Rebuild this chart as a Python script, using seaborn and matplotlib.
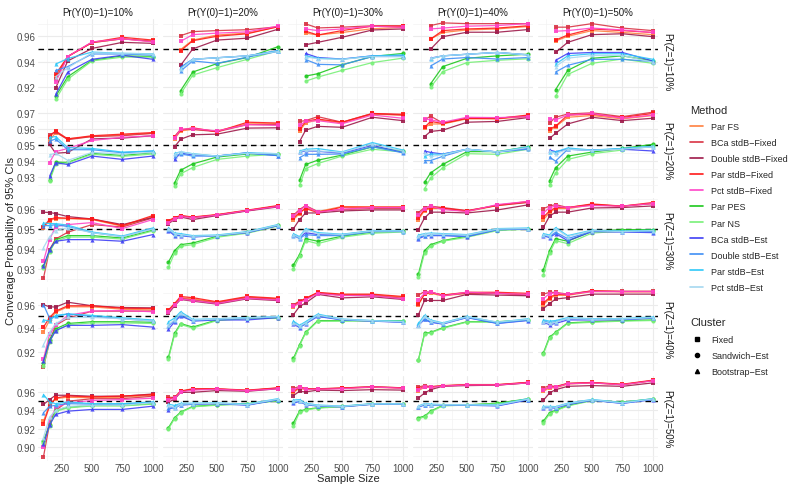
import matplotlib
matplotlib.use('Agg')
import pandas as pd
import matplotlib.pyplot as plt
import seaborn as sns
from matplotlib.lines import Line2D
from matplotlib.ticker import MultipleLocator, FixedLocator, FormatStrFormatter

# sample sizes used in each Pr(Z=1) row
sample_sizes = [
    [200, 300, 500, 750, 1000],
    [150, 200, 300, 500, 750, 1000],
    [100, 150, 200, 300, 500, 750, 1000],
    [100, 150, 200, 300, 500, 750, 1000],
    [100, 150, 200, 300, 500, 750, 1000],
]
y0_levels = ['10%', '20%', '30%', '40%', '50%']
z_levels = ['10%', '20%', '30%', '40%', '50%']

methods = ['Par FS', 'BCa stdB\u2212Fixed', 'Double stdB\u2212Fixed', 'Par stdB\u2212Fixed',
           'Pct stdB\u2212Fixed', 'Par PES', 'Par NS', 'BCa stdB\u2212Est',
           'Double stdB\u2212Est', 'Par stdB\u2212Est', 'Pct stdB\u2212Est']
method_cluster = ['Fixed'] * 5 + ['Sandwich\u2212Est'] * 2 + ['Bootstrap\u2212Est'] * 4
method_colors = ['#FF8040', '#D93344', '#9E1A4A', '#FF1A1A', '#FF45C8', '#1EC81E',
                 '#78F078', '#3F3FF5', '#3F8FF5', '#2FC8F8', '#A6D8F0']
clusters = ['Fixed', 'Sandwich\u2212Est', 'Bootstrap\u2212Est']
cluster_markers = ['s', 'o', '^']

# coverage values: [row Pr(Z=1)][col Pr(Y(0)=1)] -> one value per sample size
par_fs = [
    [[0.928, 0.944, 0.955, 0.958, 0.956], [0.9495, 0.957, 0.961, 0.9625, 0.9675], [0.9625, 0.961, 0.963, 0.966, 0.967],
     [0.9578, 0.963, 0.965, 0.9658, 0.9677], [0.9562, 0.960, 0.9645, 0.963, 0.9613]],
    [[0.953, 0.958, 0.954, 0.9555, 0.9565, 0.9575], [0.954, 0.959, 0.960, 0.959, 0.9635, 0.9635], [0.959, 0.964, 0.966, 0.964, 0.9695, 0.969],
     [0.961, 0.9634, 0.9634, 0.9666, 0.9666, 0.968], [0.9591, 0.9617, 0.9676, 0.9687, 0.9666, 0.9687]],
    [[0.9505, 0.954, 0.955, 0.955, 0.9545, 0.9512, 0.956], [0.9532, 0.955, 0.9562, 0.9556, 0.9568, 0.959, 0.9612], [0.9545, 0.9575, 0.9605, 0.9585, 0.961, 0.9608, 0.9608],
     [0.9545, 0.959, 0.960, 0.960, 0.9585, 0.9615, 0.9632], [0.9545, 0.958, 0.960, 0.960, 0.9618, 0.9612, 0.9625]],
    [[0.937, 0.9467, 0.9536, 0.9582, 0.9582, 0.9561, 0.9555], [0.955, 0.960, 0.966, 0.965, 0.962, 0.9665, 0.965], [0.958, 0.962, 0.965, 0.970, 0.9685, 0.9685, 0.9665],
     [0.960, 0.969, 0.9697, 0.9675, 0.9697, 0.9697, 0.9688], [0.960, 0.965, 0.968, 0.968, 0.9712, 0.971, 0.971]],
    [[0.928, 0.9466, 0.9532, 0.9546, 0.954, 0.9546, 0.9568], [0.9525, 0.9538, 0.961, 0.9632, 0.9636, 0.962, 0.9645], [0.960, 0.9645, 0.963, 0.9635, 0.9645, 0.9655, 0.9648],
     [0.962, 0.9655, 0.9655, 0.967, 0.9682, 0.9682, 0.9705], [0.961, 0.965, 0.965, 0.9692, 0.9705, 0.9684, 0.973]],
]
bca_fixed = [
    [[0.926, 0.944, 0.955, 0.958, 0.956], [0.9605, 0.9637, 0.9645, 0.9652, 0.9675], [0.9698, 0.9666, 0.9672, 0.9683, 0.9683],
     [0.9685, 0.9706, 0.970, 0.970, 0.970], [0.9672, 0.9672, 0.970, 0.9665, 0.9645]],
    [[0.9565, 0.9585, 0.9535, 0.9555, 0.956, 0.9575], [0.9555, 0.960, 0.960, 0.9585, 0.963, 0.963], [0.965, 0.9655, 0.968, 0.9645, 0.970, 0.969],
     [0.966, 0.9683, 0.964, 0.967, 0.967, 0.9685], [0.964, 0.9676, 0.9697, 0.9704, 0.968, 0.9708]],
    [[0.9253, 0.9395, 0.9448, 0.9482, 0.952, 0.9508, 0.9553], [0.9535, 0.955, 0.9565, 0.9555, 0.9568, 0.959, 0.9612], [0.9567, 0.9595, 0.9615, 0.9585, 0.9595, 0.960, 0.960],
     [0.958, 0.9605, 0.9612, 0.9605, 0.959, 0.9615, 0.963], [0.960, 0.9612, 0.962, 0.9605, 0.962, 0.9612, 0.9625]],
    [[0.9065, 0.9285, 0.9424, 0.9485, 0.9545, 0.9545, 0.9545], [0.9545, 0.9598, 0.9655, 0.964, 0.9615, 0.966, 0.9645], [0.960, 0.963, 0.965, 0.970, 0.968, 0.968, 0.9655],
     [0.9682, 0.9712, 0.9706, 0.9682, 0.9697, 0.9697, 0.9682], [0.969, 0.9705, 0.9705, 0.969, 0.9718, 0.9715, 0.9715]],
    [[0.8887, 0.9253, 0.940, 0.9502, 0.953, 0.953, 0.9557], [0.9545, 0.9545, 0.961, 0.9635, 0.9638, 0.962, 0.9648], [0.9645, 0.9665, 0.964, 0.964, 0.9648, 0.9665, 0.965],
     [0.966, 0.9675, 0.9665, 0.9672, 0.9684, 0.9684, 0.9708], [0.965, 0.9675, 0.9665, 0.970, 0.9708, 0.9686, 0.973]],
]
double_fixed = [
    [[0.919, 0.9405, 0.9504, 0.9552, 0.9544], [0.937, 0.950, 0.957, 0.9585, 0.9655], [0.9533, 0.9552, 0.9592, 0.965, 0.9658],
     [0.9498, 0.9597, 0.9632, 0.9632, 0.9653], [0.9472, 0.9552, 0.9613, 0.962, 0.9597]],
    [[0.9505, 0.945, 0.9455, 0.954, 0.9545, 0.956], [0.949, 0.9538, 0.9566, 0.957, 0.9608, 0.961], [0.9523, 0.9595, 0.9619, 0.9613, 0.9676, 0.9655],
     [0.9555, 0.9587, 0.9595, 0.9645, 0.965, 0.9674], [0.9543, 0.9575, 0.9634, 0.9676, 0.9655, 0.967]],
    [[0.9582, 0.958, 0.9575, 0.956, 0.9548, 0.952, 0.9555], [0.9525, 0.9545, 0.9558, 0.9545, 0.9565, 0.9588, 0.9608], [0.950, 0.9545, 0.9578, 0.9578, 0.9588, 0.9593, 0.9593],
     [0.9495, 0.9553, 0.9582, 0.9582, 0.9578, 0.9593, 0.9618], [0.9507, 0.9562, 0.9582, 0.9582, 0.9603, 0.9605, 0.9613]],
    [[0.960, 0.9582, 0.958, 0.9621, 0.9591, 0.9576, 0.9573], [0.9525, 0.959, 0.9645, 0.963, 0.9605, 0.965, 0.9635], [0.9515, 0.9585, 0.9615, 0.9688, 0.9658, 0.9667, 0.9645],
     [0.9515, 0.9636, 0.9636, 0.9636, 0.9688, 0.9682, 0.9676], [0.9567, 0.961, 0.9648, 0.966, 0.969, 0.969, 0.969]],
    [[0.9466, 0.952, 0.9568, 0.9568, 0.9557, 0.9557, 0.9582], [0.9491, 0.9525, 0.960, 0.9601, 0.962, 0.9612, 0.964], [0.9565, 0.9612, 0.9605, 0.9625, 0.962, 0.963, 0.9625],
     [0.9538, 0.9593, 0.963, 0.9668, 0.9675, 0.968, 0.9705], [0.9513, 0.9593, 0.963, 0.9667, 0.9675, 0.9667, 0.9705]],
]
par_fixed = [
    [[0.9298, 0.944, 0.9552, 0.9592, 0.957], [0.9485, 0.9565, 0.960, 0.962, 0.9675], [0.964, 0.961, 0.9645, 0.968, 0.968],
     [0.9578, 0.9645, 0.9658, 0.9665, 0.9683], [0.957, 0.961, 0.9658, 0.9645, 0.963]],
    [[0.9555, 0.959, 0.954, 0.956, 0.957, 0.958], [0.955, 0.9595, 0.961, 0.9585, 0.9645, 0.964], [0.960, 0.965, 0.9665, 0.9645, 0.970, 0.9695],
     [0.9613, 0.965, 0.9637, 0.967, 0.9668, 0.969], [0.9602, 0.962, 0.969, 0.9695, 0.9675, 0.970]],
    [[0.951, 0.9545, 0.9555, 0.9552, 0.9548, 0.9515, 0.9565], [0.954, 0.9555, 0.9565, 0.9558, 0.957, 0.9592, 0.9615], [0.9553, 0.958, 0.960, 0.958, 0.9607, 0.9607, 0.9607],
     [0.9553, 0.9595, 0.9605, 0.9602, 0.9588, 0.9617, 0.9635], [0.9557, 0.9588, 0.9605, 0.9605, 0.9623, 0.9612, 0.963]],
    [[0.9409, 0.949, 0.9545, 0.9591, 0.9591, 0.957, 0.9567], [0.9555, 0.961, 0.967, 0.966, 0.9625, 0.967, 0.9655], [0.959, 0.9625, 0.9655, 0.9705, 0.969, 0.969, 0.967],
     [0.9606, 0.969, 0.9706, 0.9682, 0.9706, 0.9706, 0.9697], [0.9615, 0.966, 0.969, 0.9685, 0.9718, 0.9712, 0.9712]],
    [[0.9253, 0.9447, 0.9538, 0.956, 0.955, 0.956, 0.9575], [0.953, 0.954, 0.9615, 0.964, 0.964, 0.9625, 0.965], [0.9612, 0.9655, 0.964, 0.9638, 0.9648, 0.966, 0.965],
     [0.964, 0.9665, 0.966, 0.9675, 0.9686, 0.9686, 0.9711], [0.9623, 0.9665, 0.966, 0.9698, 0.971, 0.969, 0.9735]],
]
pct_fixed = [
    [[0.9237, 0.944, 0.9555, 0.958, 0.9555], [0.956, 0.9613, 0.9625, 0.9635, 0.968], [0.9658, 0.9645, 0.9658, 0.968, 0.967],
     [0.9658, 0.9665, 0.968, 0.9685, 0.970], [0.964, 0.9645, 0.9665, 0.965, 0.963]],
    [[0.939, 0.946, 0.948, 0.953, 0.955, 0.956], [0.9545, 0.960, 0.9605, 0.959, 0.963, 0.9625], [0.9625, 0.965, 0.9655, 0.9635, 0.969, 0.967],
     [0.9666, 0.966, 0.9645, 0.9676, 0.9674, 0.968], [0.9666, 0.966, 0.969, 0.970, 0.967, 0.969]],
    [[0.9337, 0.9445, 0.951, 0.952, 0.953, 0.950, 0.9545], [0.953, 0.9548, 0.956, 0.9555, 0.9567, 0.959, 0.961], [0.9562, 0.959, 0.9612, 0.9582, 0.9597, 0.9605, 0.9605],
     [0.957, 0.960, 0.9612, 0.9595, 0.9585, 0.962, 0.9635], [0.9578, 0.9605, 0.9612, 0.9605, 0.9615, 0.9612, 0.9625]],
    [[0.9136, 0.9348, 0.9424, 0.9509, 0.9545, 0.955, 0.954], [0.954, 0.9595, 0.965, 0.9635, 0.961, 0.9655, 0.964], [0.9585, 0.9618, 0.964, 0.9695, 0.9678, 0.9678, 0.965],
     [0.964, 0.9697, 0.9712, 0.9675, 0.9706, 0.9697, 0.9688], [0.9652, 0.9695, 0.970, 0.9688, 0.9712, 0.9712, 0.9712]],
    [[0.8997, 0.9282, 0.9429, 0.9484, 0.951, 0.952, 0.9535], [0.952, 0.9535, 0.9605, 0.9625, 0.9635, 0.9618, 0.964], [0.9625, 0.966, 0.9632, 0.9635, 0.964, 0.966, 0.9645],
     [0.963, 0.9662, 0.9655, 0.967, 0.9682, 0.9682, 0.9705], [0.9625, 0.966, 0.9655, 0.9695, 0.9705, 0.9684, 0.9728]],
]
par_pes = [
    [[0.9125, 0.928, 0.941, 0.9445, 0.944], [0.917, 0.9317, 0.9384, 0.9432, 0.9517], [0.9285, 0.9304, 0.9374, 0.944, 0.9464],
     [0.9224, 0.936, 0.9426, 0.9445, 0.9458], [0.9178, 0.933, 0.9426, 0.9445, 0.9405]],
    [[0.9283, 0.9394, 0.9392, 0.9449, 0.9436, 0.9453], [0.9262, 0.9343, 0.9383, 0.9426, 0.9445, 0.9447], [0.9279, 0.9379, 0.9406, 0.9438, 0.949, 0.9464],
     [0.9266, 0.9326, 0.9379, 0.946, 0.946, 0.949], [0.9277, 0.9358, 0.9432, 0.9457, 0.948, 0.9506]],
    [[0.9312, 0.9387, 0.9445, 0.9465, 0.9465, 0.9453, 0.9492], [0.9333, 0.939, 0.942, 0.9428, 0.9462, 0.9483, 0.9517], [0.932, 0.937, 0.945, 0.9437, 0.9462, 0.9483, 0.9487],
     [0.9273, 0.939, 0.942, 0.944, 0.9462, 0.9495, 0.950], [0.9295, 0.939, 0.945, 0.9437, 0.9487, 0.9495, 0.9495]],
    [[0.9106, 0.9303, 0.9394, 0.944, 0.9455, 0.9455, 0.945], [0.9152, 0.9355, 0.9439, 0.9409, 0.947, 0.9485, 0.9485], [0.9143, 0.9258, 0.9364, 0.9464, 0.9464, 0.9464, 0.9464],
     [0.913, 0.9355, 0.9364, 0.9403, 0.9455, 0.9455, 0.947], [0.919, 0.9324, 0.9364, 0.9445, 0.9455, 0.9464, 0.947]],
    [[0.9063, 0.924, 0.940, 0.9435, 0.9455, 0.9455, 0.9475], [0.9209, 0.9319, 0.9381, 0.9445, 0.9462, 0.9475, 0.951], [0.9264, 0.9392, 0.9411, 0.943, 0.9445, 0.9472, 0.9472],
     [0.9319, 0.9337, 0.9392, 0.9455, 0.9462, 0.948, 0.9528], [0.9282, 0.9374, 0.9403, 0.9455, 0.9513, 0.9492, 0.9528]],
]
par_ns = [
    [[0.910, 0.926, 0.9405, 0.9435, 0.9435], [0.9144, 0.9293, 0.9352, 0.9418, 0.9485], [0.9245, 0.9277, 0.933, 0.9392, 0.9427],
     [0.9197, 0.932, 0.9392, 0.941, 0.9422], [0.9125, 0.9298, 0.9386, 0.942, 0.9386]],
    [[0.9275, 0.938, 0.939, 0.9443, 0.943, 0.9445], [0.9241, 0.932, 0.936, 0.9411, 0.9432, 0.9443], [0.9247, 0.9353, 0.9385, 0.9432, 0.9475, 0.9458],
     [0.9226, 0.9294, 0.9358, 0.9447, 0.9443, 0.9475], [0.9247, 0.9326, 0.9411, 0.9447, 0.947, 0.9494]],
    [[0.9303, 0.9383, 0.9437, 0.9458, 0.9458, 0.9448, 0.9488], [0.9307, 0.9378, 0.9412, 0.942, 0.9457, 0.9477, 0.9512], [0.930, 0.9362, 0.944, 0.9425, 0.9457, 0.9477, 0.9483],
     [0.926, 0.9378, 0.9412, 0.9437, 0.9457, 0.949, 0.9497], [0.927, 0.9378, 0.944, 0.9425, 0.9478, 0.9487, 0.949]],
    [[0.9076, 0.928, 0.9379, 0.943, 0.9445, 0.9445, 0.944], [0.914, 0.9345, 0.9432, 0.940, 0.9465, 0.9482, 0.9483], [0.913, 0.925, 0.936, 0.9458, 0.946, 0.9462, 0.9462],
     [0.9125, 0.935, 0.936, 0.9398, 0.9452, 0.9452, 0.9468], [0.918, 0.9315, 0.936, 0.944, 0.945, 0.946, 0.9465]],
    [[0.904, 0.9225, 0.939, 0.9428, 0.945, 0.945, 0.947], [0.9195, 0.931, 0.9375, 0.944, 0.9458, 0.947, 0.9505], [0.9227, 0.938, 0.9405, 0.9425, 0.9442, 0.947, 0.947],
     [0.9305, 0.933, 0.9385, 0.945, 0.946, 0.9475, 0.9522], [0.9265, 0.936, 0.9395, 0.945, 0.9508, 0.9488, 0.9525]],
]
bca_est = [
    [[0.914, 0.9317, 0.9418, 0.945, 0.9418], [0.9355, 0.9418, 0.943, 0.9445, 0.9485], [0.9464, 0.9432, 0.942, 0.9445, 0.9445],
     [0.9427, 0.9445, 0.9458, 0.9472, 0.9453], [0.941, 0.9464, 0.9472, 0.9472, 0.9405]],
    [[0.9305, 0.939, 0.9379, 0.9432, 0.9411, 0.9432], [0.9411, 0.945, 0.944, 0.9432, 0.9453, 0.9435], [0.9455, 0.9465, 0.9462, 0.945, 0.950, 0.9455],
     [0.9464, 0.9455, 0.9445, 0.9475, 0.9458, 0.948], [0.947, 0.946, 0.9475, 0.947, 0.9475, 0.9464]],
    [[0.9312, 0.9395, 0.9437, 0.9445, 0.9445, 0.9437, 0.947], [0.949, 0.9465, 0.9465, 0.9458, 0.9465, 0.948, 0.9515], [0.947, 0.9455, 0.948, 0.947, 0.947, 0.9487, 0.9487],
     [0.945, 0.9462, 0.9465, 0.9465, 0.946, 0.9495, 0.9497], [0.9465, 0.9455, 0.9475, 0.944, 0.9485, 0.9483, 0.948]],
    [[0.9121, 0.9288, 0.9379, 0.9424, 0.9424, 0.943, 0.9409], [0.939, 0.9455, 0.9505, 0.946, 0.947, 0.947, 0.949], [0.9435, 0.9405, 0.9438, 0.950, 0.947, 0.946, 0.945],
     [0.9425, 0.9475, 0.945, 0.9435, 0.949, 0.944, 0.9465], [0.945, 0.943, 0.944, 0.947, 0.947, 0.9472, 0.9485]],
    [[0.9026, 0.9238, 0.9356, 0.9392, 0.9411, 0.9411, 0.9447], [0.941, 0.944, 0.946, 0.9468, 0.9475, 0.9458, 0.9518], [0.948, 0.950, 0.9465, 0.9448, 0.944, 0.9468, 0.9468],
     [0.9438, 0.946, 0.9455, 0.9458, 0.9458, 0.945, 0.9515], [0.943, 0.9432, 0.9425, 0.9465, 0.9512, 0.9478, 0.952]],
]
double_est = [
    [[0.933, 0.936, 0.946, 0.946, 0.945], [0.9325, 0.9405, 0.9386, 0.9435, 0.948], [0.9416, 0.9378, 0.9374, 0.944, 0.944],
     [0.9365, 0.942, 0.9432, 0.942, 0.9432], [0.9317, 0.937, 0.9418, 0.9418, 0.940]],
    [[0.9525, 0.954, 0.9472, 0.9472, 0.9453, 0.9464], [0.9432, 0.9445, 0.9432, 0.9432, 0.945, 0.9435], [0.9422, 0.9443, 0.9443, 0.9445, 0.949, 0.9453],
     [0.9404, 0.9404, 0.943, 0.9475, 0.9458, 0.9475], [0.9426, 0.940, 0.9475, 0.9468, 0.9478, 0.949]],
    [[0.9515, 0.9515, 0.952, 0.951, 0.948, 0.946, 0.950], [0.9495, 0.947, 0.9468, 0.946, 0.9465, 0.9482, 0.9515], [0.9465, 0.945, 0.947, 0.9465, 0.9465, 0.9485, 0.9485],
     [0.9455, 0.9465, 0.9468, 0.9468, 0.9462, 0.9495, 0.9498], [0.9468, 0.946, 0.9482, 0.945, 0.9487, 0.9485, 0.9485]],
    [[0.960, 0.9485, 0.950, 0.9521, 0.950, 0.948, 0.9461], [0.942, 0.9465, 0.9515, 0.9465, 0.9475, 0.9485, 0.9495], [0.945, 0.941, 0.944, 0.9505, 0.9472, 0.9462, 0.9452],
     [0.943, 0.948, 0.9455, 0.9438, 0.9492, 0.9442, 0.9468], [0.946, 0.9448, 0.9455, 0.9482, 0.9475, 0.9475, 0.9488]],
    [[0.9374, 0.9446, 0.9457, 0.9475, 0.947, 0.947, 0.949], [0.943, 0.9425, 0.9462, 0.947, 0.9478, 0.9462, 0.952], [0.949, 0.9505, 0.9468, 0.945, 0.9442, 0.947, 0.947],
     [0.944, 0.9465, 0.9458, 0.946, 0.946, 0.9455, 0.952], [0.9435, 0.9438, 0.943, 0.947, 0.9515, 0.948, 0.9523]],
]
par_est = [
    [[0.938, 0.9424, 0.9475, 0.9465, 0.9462], [0.935, 0.9418, 0.943, 0.9445, 0.9485], [0.9445, 0.9427, 0.9418, 0.9445, 0.9453],
     [0.9422, 0.9445, 0.9458, 0.9472, 0.9453], [0.938, 0.9445, 0.9462, 0.9462, 0.9418]],
    [[0.9549, 0.9555, 0.9485, 0.948, 0.9457, 0.9464], [0.9449, 0.9458, 0.9447, 0.9432, 0.9453, 0.9447], [0.9464, 0.9475, 0.9479, 0.9458, 0.9517, 0.947],
     [0.943, 0.9445, 0.9443, 0.9475, 0.9458, 0.949], [0.946, 0.9458, 0.9483, 0.947, 0.948, 0.9494]],
    [[0.9528, 0.9525, 0.9525, 0.9517, 0.9483, 0.9463, 0.9503], [0.9505, 0.9478, 0.9475, 0.9465, 0.9468, 0.9485, 0.952], [0.9475, 0.946, 0.950, 0.948, 0.9472, 0.949, 0.949],
     [0.9468, 0.9475, 0.9478, 0.9475, 0.947, 0.950, 0.9503], [0.9475, 0.9468, 0.9505, 0.9465, 0.9492, 0.9488, 0.9492]],
    [[0.947, 0.9461, 0.9509, 0.9521, 0.9509, 0.9488, 0.947], [0.9455, 0.9485, 0.954, 0.9475, 0.948, 0.949, 0.950], [0.946, 0.9425, 0.9455, 0.952, 0.9478, 0.9465, 0.9458],
     [0.944, 0.951, 0.947, 0.9445, 0.950, 0.945, 0.948], [0.947, 0.946, 0.9465, 0.949, 0.948, 0.9482, 0.9495]],
    [[0.9576, 0.9494, 0.9475, 0.9494, 0.9475, 0.9475, 0.9494], [0.947, 0.9455, 0.9478, 0.948, 0.9483, 0.947, 0.953], [0.9515, 0.952, 0.948, 0.946, 0.9448, 0.9475, 0.9475],
     [0.945, 0.9475, 0.947, 0.9465, 0.9465, 0.9462, 0.953], [0.9445, 0.9445, 0.9442, 0.948, 0.9522, 0.9487, 0.953]],
]
pct_est = [
    [[0.928, 0.935, 0.947, 0.9465, 0.946], [0.934, 0.9418, 0.943, 0.9445, 0.948], [0.9437, 0.9422, 0.9418, 0.944, 0.944],
     [0.9425, 0.9445, 0.9458, 0.9472, 0.9453], [0.936, 0.9427, 0.9448, 0.9448, 0.9395]],
    [[0.944, 0.945, 0.9405, 0.9455, 0.9445, 0.9455], [0.9443, 0.946, 0.9445, 0.9432, 0.945, 0.9447], [0.946, 0.9468, 0.9464, 0.9455, 0.9506, 0.9464],
     [0.9453, 0.943, 0.944, 0.9475, 0.9458, 0.9485], [0.9464, 0.9447, 0.9475, 0.9468, 0.9475, 0.949]],
    [[0.9405, 0.946, 0.949, 0.9505, 0.948, 0.946, 0.9498], [0.950, 0.9475, 0.947, 0.9462, 0.9466, 0.9483, 0.9518], [0.947, 0.9455, 0.9495, 0.9475, 0.947, 0.9488, 0.9488],
     [0.9462, 0.9472, 0.9475, 0.9472, 0.9468, 0.9498, 0.950], [0.947, 0.9462, 0.950, 0.946, 0.949, 0.9485, 0.949]],
    [[0.9258, 0.9364, 0.944, 0.9491, 0.9491, 0.948, 0.9461], [0.943, 0.947, 0.9525, 0.947, 0.9478, 0.9488, 0.9498], [0.9445, 0.9415, 0.9445, 0.9512, 0.9475, 0.9463, 0.9455],
     [0.9415, 0.950, 0.9465, 0.944, 0.9497, 0.9452, 0.9475], [0.9455, 0.944, 0.945, 0.9485, 0.9476, 0.9478, 0.949]],
    [[0.9099, 0.9326, 0.940, 0.9445, 0.9457, 0.9457, 0.9485], [0.9455, 0.943, 0.947, 0.9475, 0.948, 0.9465, 0.9525], [0.950, 0.951, 0.9472, 0.9455, 0.9445, 0.9472, 0.9472],
     [0.9445, 0.947, 0.9462, 0.9462, 0.9462, 0.9458, 0.9525], [0.9438, 0.944, 0.9435, 0.9475, 0.9518, 0.9484, 0.9527]],
]

all_values = [par_fs, bca_fixed, double_fixed, par_fixed, pct_fixed, par_pes, par_ns,
              bca_est, double_est, par_est, pct_est]

records = []
for m, cl, vals in zip(methods, method_cluster, all_values):
    for i in range(5):
        for j in range(5):
            for n, v in zip(sample_sizes[i], vals[i][j]):
                records.append({'method': m, 'cluster': cl, 'zrow': i, 'ycol': j,
                                'n': n, 'coverage': v})
df = pd.DataFrame(records)

sns.set_theme(style='whitegrid')
plt.rcParams['font.family'] = ['Liberation Sans', 'DejaVu Sans']

palette = dict(zip(methods, method_colors))
markers = dict(zip(clusters, cluster_markers))

fig, axes = plt.subplots(5, 5, figsize=(7.92, 4.89), dpi=100, sharex=True, sharey='row')
fig.subplots_adjust(left=0.048, right=0.831, top=0.959, bottom=0.056, wspace=0.04, hspace=0.06)

y_steps = [0.02, 0.01, 0.01, 0.02, 0.02]

for i in range(5):
    for j in range(5):
        ax = axes[i, j]
        sub = df[(df.zrow == i) & (df.ycol == j)]
        ax.axhline(0.95, color='black', lw=1.0, ls=(0, (4, 3)), zorder=1)
        sns.lineplot(data=sub, x='n', y='coverage', hue='method', hue_order=methods,
                     palette=palette, style='cluster', style_order=clusters,
                     markers=markers, dashes=False, ax=ax, legend=False,
                     linewidth=0.9, markersize=3.0, markeredgewidth=0, alpha=0.9,
                     zorder=2)
        ax.set_xlabel('')
        ax.set_ylabel('')
        for s in ax.spines.values():
            s.set_visible(False)
        ax.set_facecolor('white')
        ax.xaxis.set_major_locator(FixedLocator([250, 500, 750, 1000]))
        ax.xaxis.set_minor_locator(FixedLocator([125, 375, 625, 875]))
        ax.grid(which='major', color='#EBEBEB', lw=0.8)
        ax.grid(which='minor', color='#F3F3F3', lw=0.5)
        ax.tick_params(which='both', length=0, labelsize=7, colors='#4D4D4D', pad=2)
        if i == 0:
            ax.set_title(f'Pr(Y(0)=1)={y0_levels[j]}', fontsize=7, color='#1A1A1A', pad=3)
        if j == 4:
            ax.text(1.03, 0.5, f'Pr(Z=1)={z_levels[i]}', transform=ax.transAxes, rotation=-90,
                    va='center', ha='left', fontsize=7, color='#1A1A1A')
    axes[i, 0].yaxis.set_major_locator(MultipleLocator(y_steps[i]))
    axes[i, 0].yaxis.set_minor_locator(MultipleLocator(y_steps[i] / 2))
    axes[i, 0].yaxis.set_major_formatter(FormatStrFormatter('%.2f'))

axes[0, 0].set_xlim(55, 1045)

fig.text(0.44, 0.01, 'Sample Size', ha='center', va='bottom', fontsize=8)
fig.text(0.008, 0.508, 'Converage Probability of 95% CIs', rotation=90, ha='left',
         va='center', fontsize=8)

method_handles = [Line2D([], [], color=c, lw=1.2) for c in method_colors]
fig.legend(method_handles, methods, title='Method', loc='upper left',
           bbox_to_anchor=(0.866, 0.792), frameon=False, fontsize=6.5,
           title_fontsize=8, handlelength=1.4, handletextpad=0.9,
           labelspacing=0.78, borderpad=0, alignment='left')
cluster_handles = [Line2D([], [], color='black', marker=mk, ls='none', markersize=3)
                   for mk in cluster_markers]
fig.legend(cluster_handles, clusters, title='Cluster', loc='upper left',
           bbox_to_anchor=(0.866, 0.358), frameon=False, fontsize=6.5,
           title_fontsize=8, handlelength=1.4, handletextpad=0.9,
           labelspacing=0.8, borderpad=0, alignment='left')

fig.savefig('out.png', dpi=100)
